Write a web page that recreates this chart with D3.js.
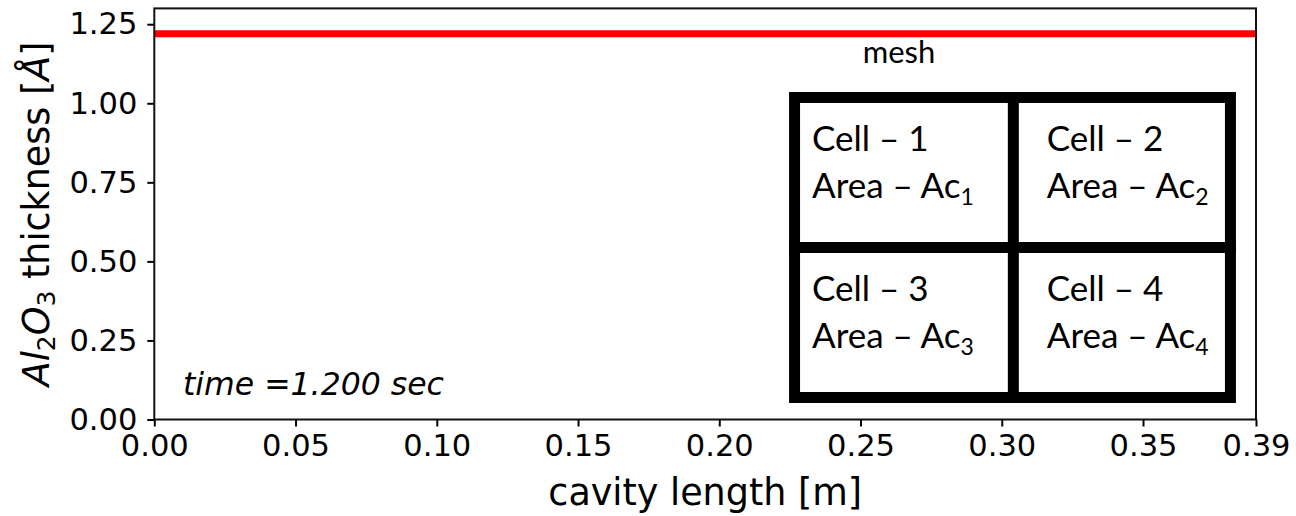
<!DOCTYPE html>
<html>
<head>
<meta charset="utf-8">
<script src="https://cdn.jsdelivr.net/npm/d3@7/dist/d3.min.js"></script>
<style>
  html, body { margin: 0; padding: 0; background: #fff; }
  svg { display: block; }
  .tick text { font-family: "DejaVu Sans", sans-serif; }
</style>
</head>
<body>
<svg id="chart" width="1296" height="516"></svg>
<script>
// Al2O3 layer thickness along the cavity at t = 1.2 s
const cavityPos = [0, 0.05, 0.10, 0.15, 0.20, 0.25, 0.30, 0.35, 0.39];
const thickness = [1.22, 1.22, 1.22, 1.22, 1.22, 1.22, 1.22, 1.22, 1.22];

const xTicks = [0, 0.05, 0.10, 0.15, 0.20, 0.25, 0.30, 0.35, 0.39];
const yTicks = [0, 0.25, 0.50, 0.75, 1.00, 1.25];

// mesh sketch: 2x2 cells
const cellNames = ["Cell \u2013 1", "Cell \u2013 2", "Cell \u2013 3", "Cell \u2013 4"];
const cellAreas = ["1", "2", "3", "4"];

const timeLabel = "time =1.200 sec";

const W = 1296, H = 516;
const margin = { left: 154.3, right: W - 1256, top: 8.4, bottom: H - 419.5 };

const svg = d3.select("#chart");
const x = d3.scaleLinear().domain([0, 0.39]).range([margin.left, W - margin.right]);
const y = d3.scaleLinear().domain([0, 1.3]).range([H - margin.bottom, margin.top]);

// clip for the plotted series
svg.append("clipPath").attr("id", "plotClip")
  .append("rect")
  .attr("x", x(0)).attr("y", y(1.3))
  .attr("width", x(0.39) - x(0)).attr("height", y(0) - y(1.3));

// series
const line = d3.line().x((d, i) => x(cavityPos[i])).y(d => y(d));
svg.append("path")
  .datum(thickness)
  .attr("clip-path", "url(#plotClip)")
  .attr("d", line)
  .attr("fill", "none")
  .attr("stroke", "#ff0000")
  .attr("stroke-width", 7);

// mesh sketch, placed in data coordinates (outer box and divider centres)
const inset = { x0: 0.2247, x1: 0.3829, y0: 0.0522, y1: 1.0357, xm: 0.3041, ym: 0.544 };
const ix0 = x(inset.x0), ix1 = x(inset.x1);
const iy0 = y(inset.y1), iy1 = y(inset.y0);
const mx = x(inset.xm), my = y(inset.ym);
const bw = 11;
const g = svg.append("g");
g.append("rect")
  .attr("x", ix0 + bw / 2).attr("y", iy0 + bw / 2)
  .attr("width", ix1 - ix0 - bw).attr("height", iy1 - iy0 - bw)
  .attr("fill", "#fff").attr("stroke", "#000").attr("stroke-width", bw);
g.append("line")
  .attr("x1", mx).attr("x2", mx)
  .attr("y1", iy0).attr("y2", iy1)
  .attr("stroke", "#000").attr("stroke-width", bw);
g.append("line")
  .attr("x1", ix0).attr("x2", ix1)
  .attr("y1", my).attr("y2", my)
  .attr("stroke", "#000").attr("stroke-width", bw);

const colLeft = [ix0 + bw, mx + bw / 2];
const rowTop = [iy0 + bw, my + bw / 2];
const textIndent = [12, 28];

const cellFont = "Lato, 'Open Sans', sans-serif";
cellNames.forEach((name, i) => {
  const c = i % 2, r = Math.floor(i / 2);
  const cx = colLeft[c] + textIndent[c];
  const cy = rowTop[r];
  g.append("text")
    .attr("x", cx).attr("y", cy + 48)
    .attr("font-family", cellFont).attr("font-size", 35)
    .attr("fill", "#000")
    .text(name);
  const t = g.append("text")
    .attr("x", cx).attr("y", cy + 95.5)
    .attr("font-family", cellFont).attr("font-size", 35)
    .attr("fill", "#000");
  t.append("tspan").text("Area \u2013 Ac");
  t.append("tspan").attr("font-size", 23).attr("dy", 7).text(cellAreas[i]);
});

svg.append("text")
  .attr("x", 899).attr("y", 63)
  .attr("text-anchor", "middle")
  .attr("font-family", cellFont).attr("font-size", 31)
  .attr("fill", "#000")
  .text("mesh");

// time stamp
svg.append("text")
  .attr("x", 183).attr("y", 395)
  .attr("font-family", "'DejaVu Sans', sans-serif")
  .attr("font-style", "italic")
  .attr("font-size", 31.5)
  .attr("fill", "#000")
  .text(timeLabel);

// axes
const xAxis = d3.axisBottom(x).tickValues(xTicks).tickFormat(d3.format(".2f")).tickSize(7).tickPadding(8);
const yAxis = d3.axisLeft(y).tickValues(yTicks).tickFormat(d3.format(".2f")).tickSize(7).tickPadding(10);

const gx = svg.append("g").attr("transform", `translate(0,${y(0)})`).call(xAxis);
const gy = svg.append("g").attr("transform", `translate(${x(0)},0)`).call(yAxis);
[gx, gy].forEach(a => {
  a.select(".domain").remove();
  a.selectAll(".tick line").attr("stroke", "#000").attr("stroke-width", 2);
  a.selectAll(".tick text").attr("font-size", 30.5).attr("fill", "#000");
});

// frame
svg.append("rect")
  .attr("x", x(0)).attr("y", y(1.3))
  .attr("width", x(0.39) - x(0)).attr("height", y(0) - y(1.3))
  .attr("fill", "none").attr("stroke", "#111").attr("stroke-width", 2);

// axis titles
svg.append("text")
  .attr("x", (x(0) + x(0.39)) / 2).attr("y", 505)
  .attr("text-anchor", "middle")
  .attr("font-family", "'DejaVu Sans', sans-serif")
  .attr("font-size", 36.5)
  .attr("fill", "#000")
  .text("cavity length [m]");

const yl = svg.append("text")
  .attr("transform", `translate(49,${(y(0) + y(1.3)) / 2}) rotate(-90)`)
  .attr("text-anchor", "middle")
  .attr("font-family", "'DejaVu Sans', sans-serif")
  .attr("font-size", 36.5)
  .attr("fill", "#000");
yl.append("tspan").attr("font-style", "italic").text("Al");
yl.append("tspan").attr("font-size", 25).attr("dy", 6).text("2");
yl.append("tspan").attr("font-style", "italic").attr("dy", -6).text("O");
yl.append("tspan").attr("font-size", 25).attr("dy", 6).text("3");
yl.append("tspan").attr("dy", -6).text(" thickness [");
yl.append("tspan").attr("font-style", "italic").text("\u00C5");
yl.append("tspan").text("]");
</script>
</body>
</html>
